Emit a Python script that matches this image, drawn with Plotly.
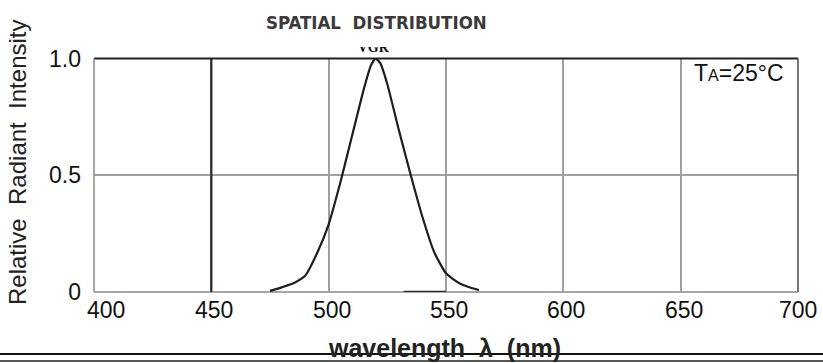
import plotly.graph_objects as go

# Spectral curve: relative radiant intensity vs wavelength
wavelength_nm = [475, 480, 485, 490, 495, 500, 505, 510, 515, 518, 520, 522, 525,
                 530, 535, 540, 545, 550, 555, 560, 564]
relative_intensity = [0.005, 0.02, 0.037, 0.07, 0.165, 0.29, 0.47, 0.67, 0.87, 0.97, 1.0,
                      0.98, 0.89, 0.69, 0.50, 0.32, 0.17, 0.08, 0.042, 0.02, 0.008]

# Short baseline segment drawn on the zero line
baseline_nm = [532, 550]
baseline_val = [0, 0]

# Dark marker line at 450 nm
marker_nm = 450

x_ticks = [400, 450, 500, 550, 600, 650, 700]
x_tick_labels = ["400", "450", "500", "550", "600", "650", "700"]
y_ticks = [0, 0.5, 1.0]
y_tick_labels = ["0", "0.5", "1.0"]

W, H = 823, 363
ML, MR, MT, MB = 94, 25, 40, 71
PW, PH = W - ML - MR, H - MT - MB


def px_x(p):
    return (p - ML) / PW


def px_y(p):
    return (H - MB - p) / PH


main_top = px_y(58.5)
FONT = "Liberation Sans, Arial, sans-serif"

fig = go.Figure()

fig.add_trace(go.Scatter(
    x=wavelength_nm, y=relative_intensity, mode="lines",
    line=dict(color="#1e1e1e", width=2.2, shape="spline", smoothing=0.5),
    hoverinfo="skip", showlegend=False, cliponaxis=False,
))
fig.add_trace(go.Scatter(
    x=baseline_nm, y=baseline_val, mode="lines",
    line=dict(color="#2a2a2a", width=2.5),
    hoverinfo="skip", showlegend=False, cliponaxis=False,
))

# Partially hidden series name above the peak
fig.add_trace(go.Scatter(
    x=[519], y=[0.8], mode="text", text=["<b>VGR</b>"],
    textfont=dict(family="Liberation Serif, serif", size=14, color="#111"),
    xaxis="x2", yaxis="y2", hoverinfo="skip", showlegend=False, cliponaxis=True,
))

fig.update_layout(
    width=W, height=H,
    margin=dict(l=ML, r=MR, t=MT, b=MB),
    paper_bgcolor="white", plot_bgcolor="white",
    xaxis=dict(
        range=[400, 700], tickvals=x_ticks, showticklabels=False,
        showgrid=True, gridcolor="#a0a0a0", gridwidth=1.5,
        zeroline=False, showline=False, ticks="", fixedrange=True,
    ),
    yaxis=dict(
        range=[0, 1], domain=[0, main_top], tickvals=y_ticks, ticktext=y_tick_labels,
        showgrid=True, gridcolor="#a0a0a0", gridwidth=1.5,
        zeroline=False, showline=False, ticks="",
        tickfont=dict(family=FONT, size=23, color="#111"),
        ticklabelstandoff=12, fixedrange=True,
    ),
    xaxis2=dict(range=[400, 700], overlaying="x", visible=False, fixedrange=True),
    yaxis2=dict(range=[0, 1], domain=[px_y(56), px_y(47)], anchor="x2",
                visible=False, fixedrange=True),
)

# Wavelength tick labels; the first one sits just right of the corner
for i, (v, lab) in enumerate(zip(x_ticks, x_tick_labels)):
    fig.add_annotation(
        text=lab, xref="x", yref="paper", x=v, y=px_y(310),
        showarrow=False, xanchor="center", yanchor="middle",
        xshift=12 if i == 0 else 3 if i < len(x_ticks) - 1 else 0,
        font=dict(family=FONT, size=23, color="#111"),
    )

# Plot frame
frame = [
    (px_x(94), main_top, px_x(798), main_top, "#222222", 2.2, "above"),   # top
    (px_x(798), 0, px_x(798), main_top, "#555555", 1.6, "above"),         # right
    (px_x(94), 0, px_x(94), main_top, "#8a8a8a", 1.5, "above"),           # left
    (px_x(94), 0, px_x(798), 0, "#8a8a8a", 1.5, "below"),                 # bottom
]
for x0, y0, x1, y1, c, w, lay in frame:
    fig.add_shape(type="line", xref="paper", yref="paper", x0=x0, y0=y0, x1=x1, y1=y1,
                  line=dict(color=c, width=w), layer=lay)

fig.add_shape(type="line", xref="x", yref="paper", x0=marker_nm, x1=marker_nm,
              y0=0, y1=main_top, line=dict(color="#2a2a2a", width=2.2), layer="above")

# Rules across the foot of the page
fig.add_shape(type="line", xref="paper", yref="paper", x0=px_x(0), x1=px_x(W),
              y0=px_y(354), y1=px_y(354), line=dict(color="#111", width=2.2))
fig.add_shape(type="line", xref="paper", yref="paper", x0=px_x(0), x1=px_x(W),
              y0=px_y(361), y1=px_y(361), line=dict(color="#222", width=1.3))

fig.add_annotation(
    text="<b>SPATIAL\u00a0\u00a0DISTRIBUTION</b>", xref="paper", yref="paper",
    x=px_x(376), y=px_y(22), showarrow=False, xanchor="center", yanchor="middle",
    font=dict(family="DejaVu Sans Condensed, DejaVu Sans, sans-serif",
              size=18.5, color="#3a3a3a"),
)
fig.add_annotation(
    text="Relative\u00a0\u00a0Radiant\u00a0\u00a0Intensity", xref="paper", yref="paper",
    x=px_x(17), y=px_y(163), showarrow=False, textangle=-90,
    xanchor="center", yanchor="middle",
    font=dict(family=FONT, size=24, color="#222"),
)
fig.add_annotation(
    text="<b>wavelength\u00a0\u00a0\u03bb\u00a0\u00a0(nm)</b>", xref="paper", yref="paper",
    x=px_x(444), y=px_y(348), showarrow=False, xanchor="center", yanchor="middle",
    font=dict(family=FONT, size=25, color="#222"),
)
fig.add_annotation(
    text="T<span style='font-size:16px'>A</span>=25\u00b0C", xref="paper", yref="paper",
    x=px_x(739), y=px_y(73), showarrow=False, xanchor="center", yanchor="middle",
    font=dict(family=FONT, size=23, color="#111"),
)

fig.write_html("out.html")
